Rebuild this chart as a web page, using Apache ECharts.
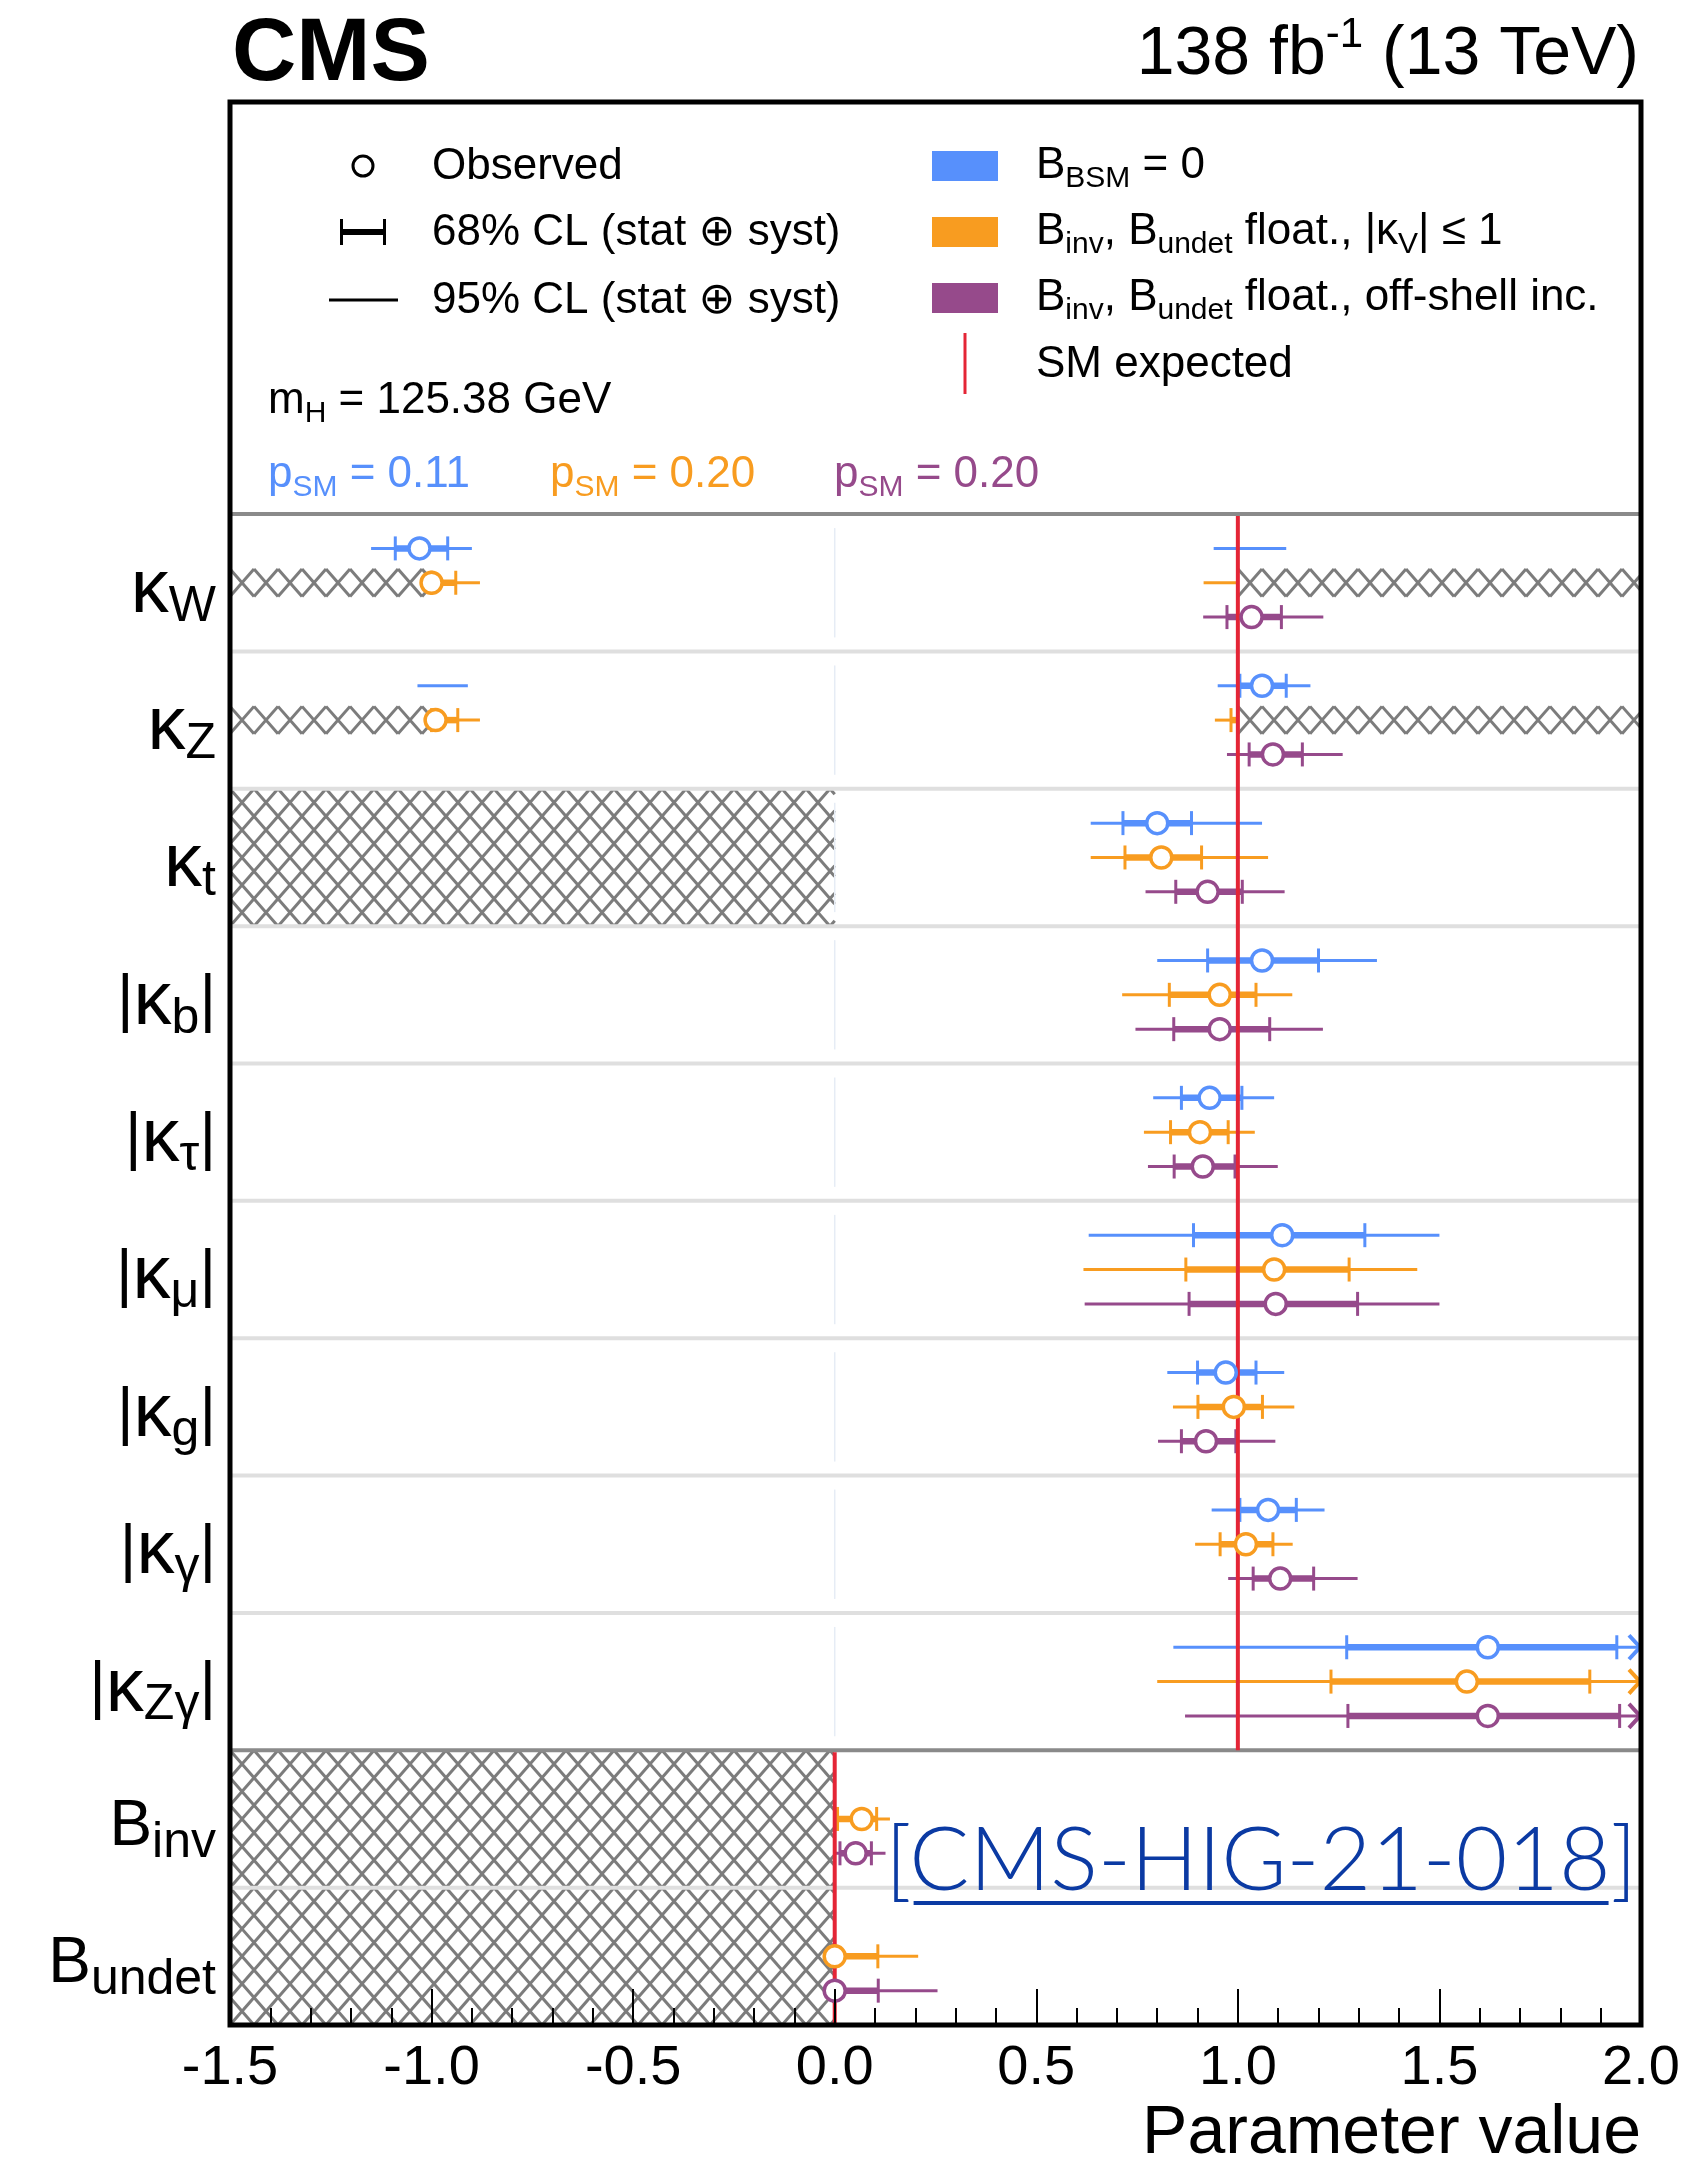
<!DOCTYPE html>
<html lang="en">
<head>
<meta charset="utf-8">
<title>CMS coupling modifiers</title>
<script src="https://cdn.jsdelivr.net/npm/echarts@6/dist/echarts.min.js"></script>
<style>
    html, body { margin: 0; padding: 0; background: #fff; }
    #chart { width: 1687px; height: 2167px; }
</style>
</head>
<body>
<div id="chart"></div>
<script>
    // ---- data ----
    var ABOVE = Infinity; // interval continues past the right edge (drawn as an arrow)

    var rowLabels = [
        '{k|κ}{s|W}', '{k|κ}{s|Z}', '{k|κ}{s|t}',
        '{b||}{k|κ}{s|b}{b||}', '{b||}{k|κ}{s|τ}{b||}', '{b||}{k|κ}{s|μ}{b||}',
        '{b||}{k|κ}{s|g}{b||}', '{b||}{k|κ}{s|γ}{b||}', '{b||}{k|κ}{s|Zγ}{b||}',
        '{b|B}{s|inv}', '{b|B}{s|undet}'
    ];
    var xTicks = [-1.5, -1.0, -0.5, 0.0, 0.5, 1.0, 1.5, 2.0];

    // B_BSM = 0
    var obsBlue = [-1.03, 1.06, 0.80, 1.06, 0.93, 1.11, 0.97, 1.075, 1.62, null, null];
    var cl68Blue = [[-1.09, -0.96], [1.005, 1.12], [0.715, 0.885], [0.925, 1.20], [0.86, 1.01],
        [0.89, 1.315], [0.90, 1.045], [1.005, 1.145], [1.27, 1.94], null, null];
    var cl95Blue = [[-1.15, -0.90], [0.95, 1.18], [0.635, 1.06], [0.80, 1.345], [0.79, 1.09],
        [0.63, 1.50], [0.825, 1.115], [0.935, 1.215], [0.84, ABOVE], null, null];
    var extraBlue = [{row: 0, cl95: [0.94, 1.12]}, {row: 1, cl95: [-1.035, -0.91]}];

    // Binv, Bundet float., |kV| <= 1
    var obsOrange = [-1.0, -0.99, 0.81, 0.955, 0.906, 1.09, 0.99, 1.02, 1.568, 0.067, 0.0];
    var cl68Orange = [[-1.0, -0.94], [-1.0, -0.935], [0.72, 0.91], [0.83, 1.045], [0.833, 0.976],
        [0.871, 1.276], [0.901, 1.061], [0.956, 1.087], [1.231, 1.873], [0.007, 0.104], [0.0, 0.107]];
    var cl95Orange = [[-1.0, -0.88], [-1.0, -0.88], [0.635, 1.075], [0.713, 1.135], [0.767, 1.042],
        [0.617, 1.445], [0.839, 1.14], [0.894, 1.136], [0.80, ABOVE], [0.0, 0.137], [0.0, 0.207]];
    var extraOrange = [{row: 0, cl95: [0.915, 1.0]}, {row: 1, cl68: [0.983, 1.0], cl95: [0.943, 1.0]}];

    // Binv, Bundet float., off-shell inc.
    var obsPurple = [1.034, 1.087, 0.925, 0.955, 0.913, 1.094, 0.921, 1.105, 1.62, 0.052, 0.0];
    var cl68Purple = [[0.973, 1.108], [1.028, 1.16], [0.846, 1.011], [0.841, 1.079], [0.842, 0.993],
        [0.879, 1.297], [0.86, 0.995], [1.038, 1.188], [1.273, 1.947], [0.013, 0.091], [0.0, 0.108]];
    var cl95Purple = [[0.914, 1.212], [0.973, 1.26], [0.771, 1.116], [0.746, 1.211], [0.777, 1.099],
        [0.62, 1.50], [0.802, 1.093], [0.976, 1.297], [0.869, ABOVE], [0.0, 0.126], [0.0, 0.255]];
    var extraPurple = [];

    var pValues = ['0.11', '0.20', '0.20'];

    // excluded regions: [row, from, to] as a band around the orange point; [firstRow, lastRow, from, to] as full rows
    var hatchBands = [[0, -1.5, -1.0], [0, 1.0, 2.0], [1, -1.5, -1.0], [1, 1.0, 2.0]];
    var hatchRows = [[2, 2, -1.5, 0.0], [9, 10, -1.5, 0.0]];
    // SM expectation: [firstRow, lastRow, value]
    var smLines = [[0, 8, 1.0], [9, 10, 0.0]];

    // ---- styling ----
    var FONT = '"Liberation Sans", Arial, Helvetica, "DejaVu Sans", sans-serif';
    var COLORS = ['#5790fc', '#f89c20', '#964a8b'];
    var SM_RED = '#e42536';
    var X_MIN = -1.5, X_MAX = 2.0;
    var ROW = 4, BLOCK_SPLIT = 9, BAND_HALF = 0.4;
    var HATCH_W = 24;

    var scenarios = [
        {obs: obsBlue, cl68: cl68Blue, cl95: cl95Blue, extra: extraBlue},
        {obs: obsOrange, cl68: cl68Orange, cl95: cl95Orange, extra: extraOrange},
        {obs: obsPurple, cl68: cl68Purple, cl95: cl95Purple, extra: extraPurple}
    ];
    var barItems = [], circleData = [[], [], []];
    scenarios.forEach(function (sc, s) {
        rowLabels.forEach(function (_, i) {
            var y = i * ROW + 1 + s;
            if (sc.cl95[i] || sc.cl68[i]) barItems.push({s: s, y: y, cl68: sc.cl68[i], cl95: sc.cl95[i]});
            if (sc.obs[i] !== null) circleData[s].push([sc.obs[i], y]);
        });
        sc.extra.forEach(function (e) {
            barItems.push({s: s, y: e.row * ROW + 1 + s, cl68: e.cl68 || null, cl95: e.cl95 || null});
        });
    });

    var hatchItems = [];
    hatchBands.forEach(function (b) {
        var yc = b[0] * ROW + 2;
        hatchItems.push([b[1], b[2], yc - BAND_HALF, yc + BAND_HALF]);
    });
    hatchRows.forEach(function (r) {
        hatchItems.push([r[2], r[3], r[0] * ROW, (r[1] + 1) * ROW]);
    });

    // cross-hatch drawn as two families of diagonal lines clipped to the region
    function renderHatch(params, api) {
        var r = hatchItems[params.dataIndex];
        var p0 = api.coord([r[0], r[2]]), p1 = api.coord([r[1], r[3]]);
        var L = Math.min(p0[0], p1[0]), R = Math.max(p0[0], p1[0]);
        var T = Math.min(p0[1], p1[1]), B = Math.max(p0[1], p1[1]);
        var ox = api.coord([X_MIN, 0])[0];
        var oy = api.coord([0, 2 - BAND_HALF])[1];
        var h = Math.abs(api.coord([0, 2 + BAND_HALF])[1] - oy);
        var w = HATCH_W;
        var sT = (T - oy) / h, sB = (B - oy) / h;
        var uL = (L - ox) / w, uR = (R - ox) / w;
        var kMin = Math.floor(uL - sB) - 1, kMax = Math.ceil(uR + sB) + 1;
        var kids = [];
        var st = {stroke: '#7c7c7c', lineWidth: 3};
        for (var k = kMin; k <= kMax; k++) {
            var a0 = Math.max(sT, uL - k), a1 = Math.min(sB, uR - k);
            if (a1 > a0) {
                kids.push({type: 'line', style: st, shape: {
                    x1: ox + (k + a0) * w, y1: oy + a0 * h, x2: ox + (k + a1) * w, y2: oy + a1 * h}});
            }
            var b0 = Math.max(sT, k - uR), b1 = Math.min(sB, k - uL);
            if (b1 > b0) {
                kids.push({type: 'line', style: st, shape: {
                    x1: ox + (k - b0) * w, y1: oy + b0 * h, x2: ox + (k - b1) * w, y2: oy + b1 * h}});
            }
        }
        return {type: 'group', children: kids};
    }

    function renderSeparators(params, api) {
        var kids = [];
        var xl = api.coord([X_MIN, 0])[0], xr = api.coord([X_MAX, 0])[0], x0 = api.coord([0, 0])[0];
        for (var i = 0; i < rowLabels.length; i++) {
            var yt = api.coord([0, i * ROW])[1], yb = api.coord([0, (i + 1) * ROW])[1];
            var dark = (i === 0 || i === BLOCK_SPLIT);
            kids.push({type: 'line', shape: {x1: xl, y1: yt, x2: xr, y2: yt},
                style: {stroke: dark ? '#8a8a8a' : '#dfdfdf', lineWidth: 4}});
            if (i < BLOCK_SPLIT) {
                kids.push({type: 'line', shape: {x1: x0, y1: yt + 14, x2: x0, y2: yb - 14},
                    style: {stroke: '#e6ecf5', lineWidth: 1.5}});
            }
        }
        return {type: 'group', children: kids};
    }

    function renderSM(params, api) {
        var l = smLines[params.dataIndex];
        var p0 = api.coord([l[2], l[0] * ROW]), p1 = api.coord([l[2], (l[1] + 1) * ROW]);
        return {type: 'line', shape: {x1: p0[0], y1: p0[1] + 2, x2: p1[0], y2: p1[1]},
            style: {stroke: SM_RED, lineWidth: 4}};
    }

    function renderBars(params, api) {
        var d = barItems[params.dataIndex];
        var col = COLORS[d.s];
        var yp = api.coord([0, d.y])[1];
        function px(v) { return api.coord([Math.min(v, X_MAX), d.y])[0]; }
        var kids = [];
        if (d.cl95) {
            kids.push({type: 'line', shape: {x1: px(d.cl95[0]), y1: yp, x2: px(d.cl95[1]), y2: yp},
                style: {stroke: col, lineWidth: 3}});
            if (d.cl95[1] > X_MAX) {
                var tx = px(X_MAX) - 1;
                kids.push({type: 'polyline', shape: {points: [[tx - 11, yp - 12], [tx, yp], [tx - 11, yp + 12]]},
                    style: {stroke: col, lineWidth: 4, fill: 'none'}});
            }
        }
        if (d.cl68) {
            var a = px(d.cl68[0]), b = px(d.cl68[1]);
            kids.push({type: 'line', shape: {x1: a, y1: yp, x2: b, y2: yp}, style: {stroke: col, lineWidth: 6.5}});
            [a, b].forEach(function (x) {
                kids.push({type: 'line', shape: {x1: x, y1: yp - 12, x2: x, y2: yp + 12},
                    style: {stroke: col, lineWidth: 3}});
            });
        }
        return {type: 'group', children: kids};
    }

    // ---- legend / annotations ----
    var subRich = {
        s: {fontSize: 30, lineHeight: 30, verticalAlign: 'top', padding: [28, 0, 0, 0], fontFamily: FONT}
    };
    function txt(x, y, text, extra) {
        return {
            type: 'text', x: x, y: y, z: 100,
            style: Object.assign({
                text: text, fill: '#000', fontFamily: FONT, fontSize: 44, lineHeight: 60,
                align: 'left', verticalAlign: 'middle', rich: subRich
            }, extra || {})
        };
    }

    var linkText = '[CMS-HIG-21-018]';
    var LINK_FONT = '300 89px Lato, "Open Sans", sans-serif';
    var mctx = document.createElement('canvas').getContext('2d');
    mctx.font = LINK_FONT;
    var linkRight = 1637;
    var linkW = mctx.measureText(linkText).width;
    var lbW = mctx.measureText('[').width, rbW = mctx.measureText(']').width;

    var graphics = [
        {type: 'text', x: 232, y: 55, z: 100,
            style: {text: 'CMS', fill: '#000', fontFamily: FONT, fontWeight: 'bold', fontSize: 89,
                align: 'left', verticalAlign: 'middle'}},
        {type: 'text', x: 1639, y: 55, z: 100,
            style: {text: '138 fb{sup|-1} (13 TeV)', fill: '#000', fontFamily: FONT, fontSize: 68, lineHeight: 82,
                align: 'right', verticalAlign: 'middle',
                rich: {sup: {fontSize: 42, lineHeight: 42, verticalAlign: 'top', fontFamily: FONT}}}},
        // markers
        {type: 'circle', z: 100, shape: {cx: 363, cy: 166, r: 10}, style: {fill: '#fff', stroke: '#000', lineWidth: 3}},
        {type: 'line', z: 100, shape: {x1: 340, y1: 232, x2: 386, y2: 232}, style: {stroke: '#000', lineWidth: 6}},
        {type: 'line', z: 100, shape: {x1: 341.5, y1: 219, x2: 341.5, y2: 245}, style: {stroke: '#000', lineWidth: 3}},
        {type: 'line', z: 100, shape: {x1: 384.5, y1: 219, x2: 384.5, y2: 245}, style: {stroke: '#000', lineWidth: 3}},
        {type: 'line', z: 100, shape: {x1: 329, y1: 300, x2: 398, y2: 300}, style: {stroke: '#000', lineWidth: 3}},
        {type: 'rect', z: 100, shape: {x: 932, y: 151, width: 66, height: 30}, style: {fill: COLORS[0]}},
        {type: 'rect', z: 100, shape: {x: 932, y: 217, width: 66, height: 30}, style: {fill: COLORS[1]}},
        {type: 'rect', z: 100, shape: {x: 932, y: 283, width: 66, height: 30}, style: {fill: COLORS[2]}},
        {type: 'line', z: 100, shape: {x1: 965, y1: 333, x2: 965, y2: 394}, style: {stroke: SM_RED, lineWidth: 3}},
        txt(432, 167, 'Observed'),
        txt(432, 233, '68% CL (stat ⊕ syst)'),
        txt(432, 301, '95% CL (stat ⊕ syst)'),
        txt(1036, 166, 'B{s|BSM} = 0'),
        txt(1036, 232, 'B{s|inv}, B{s|undet} float., |κ{s|V}| ≤ 1'),
        txt(1036, 298, 'B{s|inv}, B{s|undet} float., off-shell inc.'),
        txt(1036, 365, 'SM expected'),
        txt(268, 401, 'm{s|H} = 125.38 GeV'),
        txt(268, 475, 'p{s|SM} = ' + pValues[0], {fill: COLORS[0]}),
        txt(550, 475, 'p{s|SM} = ' + pValues[1], {fill: COLORS[1]}),
        txt(834, 475, 'p{s|SM} = ' + pValues[2], {fill: COLORS[2]}),
        // reference link
        {type: 'text', x: linkRight, y: 1861, z: 100,
            style: {text: linkText, fill: '#0b3aa3', font: LINK_FONT, align: 'right', verticalAlign: 'middle'}},
        {type: 'line', z: 100, shape: {x1: linkRight - linkW + lbW + 2, y1: 1903, x2: linkRight - rbW - 2, y2: 1903},
            style: {stroke: '#0b3aa3', lineWidth: 4}},
        // axis title
        {type: 'text', x: 1641, y: 2134, z: 100,
            style: {text: 'Parameter value', fill: '#000', fontFamily: FONT, fontSize: 68,
                align: 'right', verticalAlign: 'middle'}}
    ];

    var chart = echarts.init(document.getElementById('chart'), null, {renderer: 'canvas'});

    var circleSeries = circleData.map(function (pts, s) {
        return {
            type: 'scatter', data: pts, z: 6, silent: true,
            symbol: 'circle', symbolSize: 21,
            itemStyle: {color: '#fff', borderColor: COLORS[s], borderWidth: 3.5, opacity: 1}
        };
    });

    chart.setOption({
        animation: false,
        backgroundColor: '#fff',
        grid: {left: 230, right: 46, top: 102, bottom: 142, show: true, z: 20,
            borderColor: '#000', borderWidth: 5, backgroundColor: 'transparent', outerBoundsMode: 'none'},
        xAxis: {
            type: 'value', min: X_MIN, max: X_MAX, interval: 0.5, z: 10, position: 'bottom',
            axisLine: {show: false, onZero: false},
            axisTick: {show: true, inside: true, length: 36, lineStyle: {color: '#000', width: 2}},
            minorTick: {show: true, splitNumber: 5, length: 17, lineStyle: {color: '#000', width: 2}},
            splitLine: {show: false},
            axisLabel: {
                show: true, margin: 16, color: '#000', fontFamily: FONT, fontSize: 56,
                showMinLabel: true, showMaxLabel: true,
                formatter: function (v) {
                    var t = xTicks.filter(function (x) { return Math.abs(x - v) < 1e-6; });
                    return t.length ? t[0].toFixed(1) : '';
                }
            }
        },
        yAxis: [
            {type: 'value', min: -3 * ROW, max: rowLabels.length * ROW, inverse: true, show: false},
            {
                type: 'category', inverse: true, position: 'left',
                data: ['', '', ''].concat(rowLabels),
                axisLine: {show: false}, axisTick: {show: false}, splitLine: {show: false},
                axisLabel: {
                    interval: 0, margin: 14, color: '#000', fontFamily: FONT, fontSize: 64,
                    padding: [16, 0, 0, 0],
                    rich: {
                        k: {fontSize: 76, lineHeight: 96, fontFamily: FONT},
                        b: {fontSize: 64, lineHeight: 96, fontFamily: FONT},
                        s: {fontSize: 50, lineHeight: 50, verticalAlign: 'top', padding: [39, 0, 0, 0], fontFamily: FONT}
                    }
                }
            }
        ],
        series: [
            {type: 'custom', z: 1, silent: true, renderItem: renderHatch,
                data: hatchItems.map(function (h) { return [h[0], h[2]]; })},
            {type: 'custom', z: 2, silent: true, renderItem: renderSeparators, data: [[0, 0]]},
            {type: 'custom', z: 3, silent: true, renderItem: renderBars,
                data: barItems.map(function (d) { return [0, d.y]; })},
            {type: 'custom', z: 4, silent: true, renderItem: renderSM,
                data: smLines.map(function (l) { return [l[2], l[0] * ROW]; })}
        ].concat(circleSeries),
        graphic: {elements: graphics}
    });
</script>
</body>
</html>
